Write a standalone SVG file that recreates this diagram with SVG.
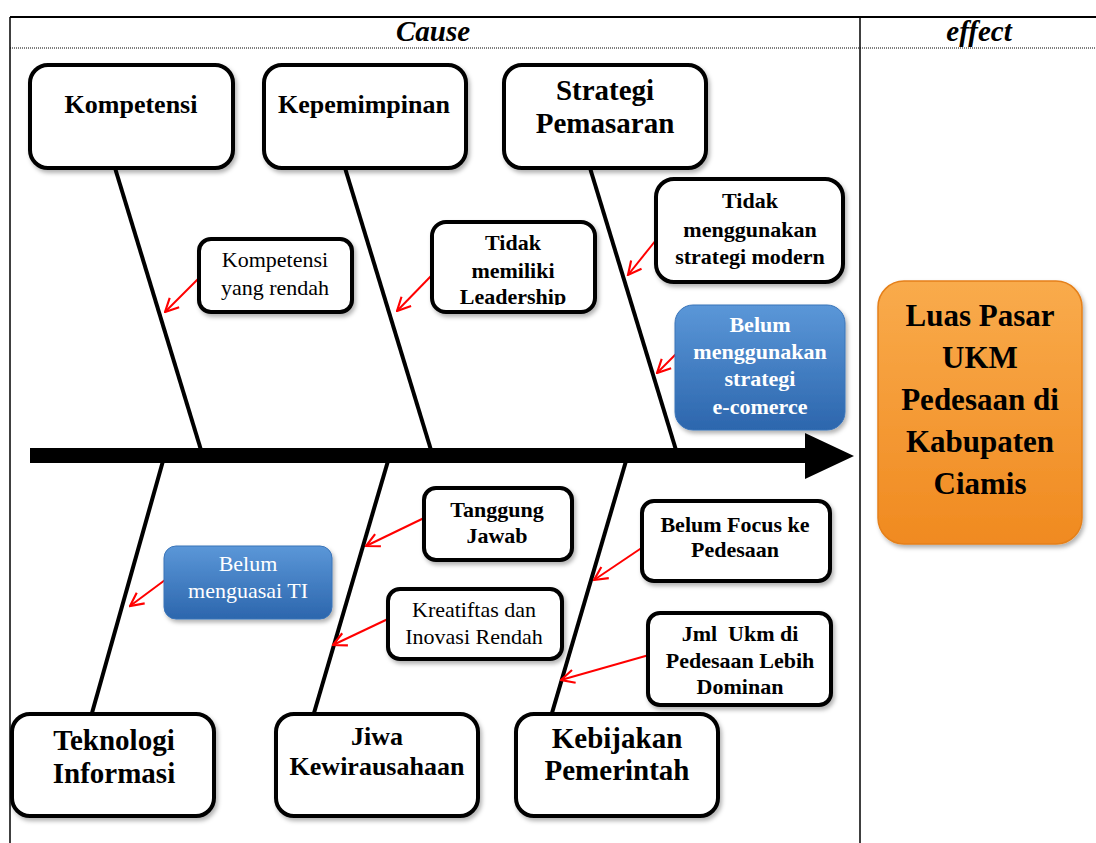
<svg xmlns="http://www.w3.org/2000/svg" width="1096" height="843" viewBox="0 0 1096 843">
<defs>
<style>
.box{fill:#fff;stroke:#000;stroke-width:4;filter:url(#sh)}
.bone{stroke:#000;stroke-width:4;fill:none}
.red{stroke:#f00;stroke-width:2;fill:none;marker-end:url(#ah)}
.t{font-family:"Liberation Serif","Times New Roman",serif;text-anchor:middle;fill:#000}
.b{font-weight:bold}
.big{font-size:26px;font-weight:bold}
.big2{font-size:29px;font-weight:bold}
.sm{font-size:22px}
.w{fill:#fff}
.hd{font-size:29px;font-weight:bold;font-style:italic}
</style>
<filter id="sh" x="-10%" y="-10%" width="125%" height="130%">
<feDropShadow dx="2" dy="3" stdDeviation="2" flood-color="#000" flood-opacity="0.3"/>
</filter>
<linearGradient id="blue" x1="0" y1="0" x2="0" y2="1">
<stop offset="0" stop-color="#5b97d8"/>
<stop offset="1" stop-color="#2c66ad"/>
</linearGradient>
<linearGradient id="orange" x1="0" y1="0" x2="0" y2="1">
<stop offset="0" stop-color="#f9ab4c"/>
<stop offset="1" stop-color="#f08a20"/>
</linearGradient>
<marker id="ah" viewBox="0 0 12 12" refX="11" refY="6" markerWidth="8" markerHeight="8" orient="auto" markerUnits="strokeWidth">
<path d="M1,1 L11,6 L1,11" fill="none" stroke="#f00" stroke-width="1.6"/>
</marker>
<clipPath id="clipL"><rect x="432" y="222" width="163" height="83"/></clipPath>
</defs>

<g id="table">
<line x1="10" y1="17" x2="1096" y2="17" stroke="#000" stroke-width="2"/>
<line x1="10" y1="17" x2="10" y2="843" stroke="#000" stroke-width="1.5"/>
<line x1="860" y1="17" x2="860" y2="843" stroke="#000" stroke-width="1.5"/>
<line x1="10" y1="48" x2="1096" y2="48" stroke="#000" stroke-width="1" stroke-dasharray="1,1"/>
<text class="t hd" x="433" y="41">Cause</text>
<text class="t hd" x="979" y="41">effect</text>
</g>

<g id="connectors">
<line class="bone" x1="115" y1="168" x2="201" y2="450"/>
<line class="bone" x1="345" y1="168" x2="431" y2="450"/>
<line class="bone" x1="590" y1="168" x2="676" y2="450"/>
<line class="bone" x1="163" y1="461" x2="92" y2="713"/>
<line class="bone" x1="388" y1="461" x2="314" y2="713"/>
<line class="bone" x1="626" y1="461" x2="552" y2="713"/>
<polygon points="30,448 805,448 805,433 854,456 805,479 805,463 30,463" fill="#000"/>
<line class="red" x1="200" y1="277" x2="165" y2="312"/>
<line class="red" x1="432" y1="275" x2="397" y2="311"/>
<line class="red" x1="656" y1="240" x2="628" y2="275"/>
<line class="red" x1="693" y1="337" x2="657" y2="373"/>
<line class="red" x1="165" y1="580" x2="130" y2="606"/>
<line class="red" x1="424" y1="518" x2="366" y2="546"/>
<line class="red" x1="390" y1="618" x2="333" y2="645"/>
<line class="red" x1="643" y1="547" x2="594" y2="580"/>
<line class="red" x1="649" y1="655" x2="561" y2="680"/>
</g>

<g id="kompetensi">
<rect class="box" x="30" y="65" width="203" height="103" rx="18"/>
<text class="t big" x="131" y="113">Kompetensi</text>
</g>
<g id="kepemimpinan">
<rect class="box" x="264" y="65" width="202" height="103" rx="18"/>
<text class="t big" x="364" y="113">Kepemimpinan</text>
</g>
<g id="strategi-pemasaran">
<rect class="box" x="504" y="65" width="202" height="103" rx="18"/>
<text class="t big2" x="605" y="100">Strategi</text>
<text class="t big2" x="605" y="133">Pemasaran</text>
</g>

<g id="kompetensi-rendah">
<rect class="box" x="199" y="239" width="153" height="73" rx="12"/>
<text class="t sm" x="275" y="267">Kompetensi</text>
<text class="t sm" x="275" y="295">yang rendah</text>
</g>
<g id="tidak-leadership">
<rect class="box" x="432" y="222" width="163" height="90" rx="14"/>
<g clip-path="url(#clipL)">
<text class="t sm b" x="513" y="250">Tidak</text>
<text class="t sm b" x="513" y="278">memiliki</text>
<text class="t sm b" x="513" y="304">Leadership</text>
</g>
</g>
<g id="tidak-strategi-modern">
<rect class="box" x="656" y="179" width="187" height="103" rx="18"/>
<text class="t sm b" x="750" y="208">Tidak</text>
<text class="t sm b" x="750" y="237">menggunakan</text>
<text class="t sm b" x="750" y="264">strategi modern</text>
</g>
<g id="belum-ecommerce">
<rect x="675" y="305" width="170" height="125" rx="18" fill="url(#blue)" stroke="#3a74b8" stroke-width="1" filter="url(#sh)"/>
<text class="t sm b w" x="760" y="332">Belum</text>
<text class="t sm b w" x="760" y="359">menggunakan</text>
<text class="t sm b w" x="760" y="386">strategi</text>
<text class="t sm b w" x="760" y="414">e-comerce</text>
</g>

<g id="effect">
<rect x="878" y="281" width="204" height="263" rx="26" fill="url(#orange)" stroke="#e5801a" stroke-width="1.5" filter="url(#sh)"/>
<text class="t b" font-size="31" x="980" y="326">Luas Pasar</text>
<text class="t b" font-size="31" x="980" y="368">UKM</text>
<text class="t b" font-size="31" x="980" y="410">Pedesaan di</text>
<text class="t b" font-size="31" x="980" y="452">Kabupaten</text>
<text class="t b" font-size="31" x="980" y="494">Ciamis</text>
</g>

<g id="belum-ti">
<rect x="164" y="546" width="168" height="73" rx="12" fill="url(#blue)" stroke="#3a74b8" stroke-width="1" filter="url(#sh)"/>
<text class="t sm w" x="248" y="571">Belum</text>
<text class="t sm w" x="248" y="598">menguasai TI</text>
</g>
<g id="tanggung-jawab">
<rect class="box" x="424" y="488" width="148" height="72" rx="12"/>
<text class="t sm b" x="497" y="517">Tanggung</text>
<text class="t sm b" x="497" y="543">Jawab</text>
</g>
<g id="kreatifitas">
<rect class="box" x="388" y="589" width="174" height="70" rx="12"/>
<text class="t sm" x="474" y="617">Kreatiftas dan</text>
<text class="t sm" x="474" y="644">Inovasi Rendah</text>
</g>
<g id="belum-focus">
<rect class="box" x="642" y="501" width="188" height="80" rx="12"/>
<text class="t sm b" x="735" y="532">Belum Focus ke</text>
<text class="t sm b" x="735" y="557">Pedesaan</text>
</g>
<g id="jml-ukm">
<rect class="box" x="648" y="613" width="183" height="92" rx="12"/>
<text class="t sm b" x="740" y="641" xml:space="preserve">Jml  Ukm di</text>
<text class="t sm b" x="740" y="668">Pedesaan Lebih</text>
<text class="t sm b" x="740" y="694">Dominan</text>
</g>

<g id="teknologi-informasi">
<rect class="box" x="12" y="714" width="202" height="102" rx="18"/>
<text class="t big2" x="114" y="750">Teknologi</text>
<text class="t big2" x="114" y="783">Informasi</text>
</g>
<g id="jiwa-kewirausahaan">
<rect class="box" x="276" y="714" width="202" height="102" rx="18"/>
<text class="t big" x="377" y="745">Jiwa</text>
<text class="t big" x="377" y="775">Kewirausahaan</text>
</g>
<g id="kebijakan-pemerintah">
<rect class="box" x="516" y="714" width="202" height="102" rx="18"/>
<text class="t big2" x="617" y="748">Kebijakan</text>
<text class="t big2" x="617" y="780">Pemerintah</text>
</g>
</svg>
